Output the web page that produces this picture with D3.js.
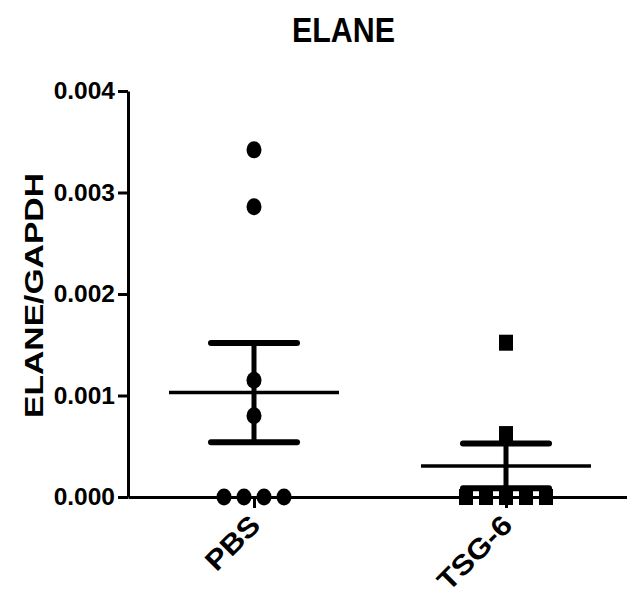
<!DOCTYPE html>
<html>
<head>
<meta charset="utf-8">
<script src="https://cdn.jsdelivr.net/npm/d3@7"></script>
<style>
  body { margin: 0; background: #fff; }
  svg { display: block; }
  text { font-family: "Liberation Sans", Arial, sans-serif; font-weight: bold; fill: #000; }
</style>
</head>
<body>
<div id="viz"></div>
<script>
const WIDTH = 627;
const HEIGHT = 594;

// data
const categories = ['PBS', 'TSG-6'];
const pbsValues = [0.00342, 0.00286, 0.00115, 0.00080, 0, 0, 0, 0];
const tsgValues = [0.00152, 0.00062, 0, 0, 0, 0, 0];
const yTicks = [0, 0.001, 0.002, 0.003, 0.004];
const title = 'ELANE';
const yLabel = 'ELANE/GAPDH';

const groups = [
  { name: categories[0], values: pbsValues, shape: 'circle' },
  { name: categories[1], values: tsgValues, shape: 'square' }
];

const svg = d3.select('#viz')
  .append('svg')
  .attr('width', WIDTH)
  .attr('height', HEIGHT);

const x = d3.scalePoint()
  .domain(categories)
  .range([128, 632])
  .padding(0.5);

const y = d3.scaleLinear()
  .domain([0, 0.004])
  .range([497, 91]);

// title
svg.append('text')
  .attr('x', 343.5)
  .attr('y', 42)
  .attr('text-anchor', 'middle')
  .attr('font-size', 35)
  .attr('textLength', 103)
  .attr('lengthAdjust', 'spacingAndGlyphs')
  .text(title);

// y axis label
svg.append('text')
  .attr('transform', 'translate(43, 295.5) rotate(-90)')
  .attr('text-anchor', 'middle')
  .attr('font-size', 25)
  .attr('textLength', 245)
  .attr('lengthAdjust', 'spacingAndGlyphs')
  .text(yLabel);

// y axis
const yAxis = svg.append('g')
  .attr('class', 'yaxis')
  .attr('transform', 'translate(128, 0)')
  .call(d3.axisLeft(y)
    .tickValues(yTicks)
    .tickFormat(d3.format('.3f'))
    .tickSize(10)
    .tickSizeOuter(0)
    .tickPadding(3));
yAxis.select('.domain').attr('stroke-width', 3);
yAxis.selectAll('.tick line').attr('stroke-width', 3);
yAxis.selectAll('.tick text')
  .attr('font-size', 24.5)
  .attr('font-family', '"Liberation Sans", Arial, sans-serif')
  .attr('font-weight', 'bold');

// x axis
const xAxis = svg.append('g')
  .attr('class', 'xaxis')
  .attr('transform', 'translate(0, 497)')
  .call(d3.axisBottom(x)
    .tickSize(11)
    .tickSizeOuter(0)
    .tickFormat(''));
xAxis.select('.domain').attr('stroke-width', 3);
xAxis.selectAll('.tick line').attr('stroke-width', 3);

// rotated category labels
svg.append('g')
  .attr('class', 'labels')
  .selectAll('text')
  .data(categories)
  .join('text')
  .attr('transform', d => `translate(${x(d) + 8}, 527) rotate(-45) scale(1.12, 1)`)
  .attr('text-anchor', 'end')
  .attr('font-size', 28)
  .text(d => d);

// points, spread sideways where values coincide
const points = svg.append('g').attr('class', 'points');
groups.forEach(g => {
  const counts = d3.rollup(g.values, v => v.length, v => v);
  const seen = new Map();
  g.values.forEach(v => {
    const k = counts.get(v);
    const i = seen.get(v) || 0;
    seen.set(v, i + 1);
    const cx = x(g.name) + (i - (k - 1) / 2) * 20;
    const cy = y(v);
    if (g.shape === 'circle') {
      points.append('ellipse')
        .attr('cx', cx).attr('cy', cy)
        .attr('rx', 7.5).attr('ry', 8.5)
        .attr('fill', '#000');
    } else {
      points.append('rect')
        .attr('x', cx - 7).attr('y', cy - 8)
        .attr('width', 14).attr('height', 16)
        .attr('fill', '#000');
    }
  });
});

// mean and SEM
const stats = svg.append('g').attr('class', 'stats');
groups.forEach(g => {
  const m = d3.mean(g.values);
  const sem = d3.deviation(g.values) / Math.sqrt(g.values.length);
  const cx = x(g.name);
  stats.append('line')
    .attr('x1', cx - 85).attr('x2', cx + 85)
    .attr('y1', y(m)).attr('y2', y(m))
    .attr('stroke', '#000').attr('stroke-width', 3.5);
  stats.append('line')
    .attr('x1', cx).attr('x2', cx)
    .attr('y1', y(m + sem)).attr('y2', y(m - sem))
    .attr('stroke', '#000').attr('stroke-width', 5);
  [m + sem, m - sem].forEach(v => {
    stats.append('line')
      .attr('x1', cx - 43).attr('x2', cx + 43)
      .attr('y1', y(v)).attr('y2', y(v))
      .attr('stroke', '#000').attr('stroke-width', 6)
      .attr('stroke-linecap', 'round');
  });
});
</script>
</body>
</html>
